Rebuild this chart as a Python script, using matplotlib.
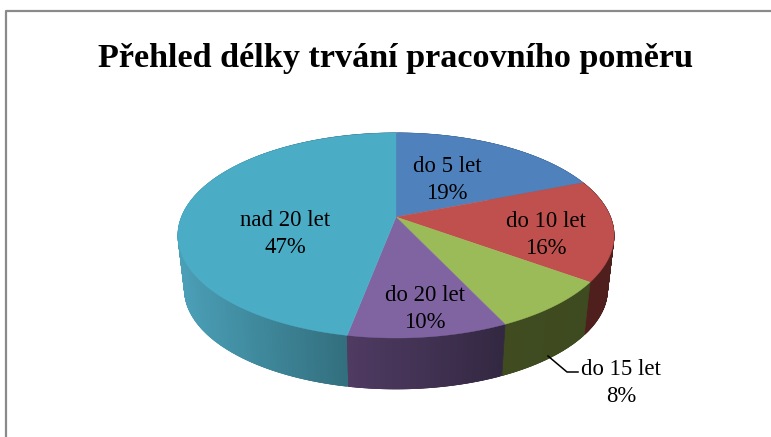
import numpy as np
import matplotlib
matplotlib.use('Agg')
import matplotlib.pyplot as plt
from matplotlib.colors import to_rgb

# data
categories = ['do 5 let', 'do 10 let', 'do 15 let', 'do 20 let', 'nad 20 let']
percents = [19, 16, 8, 10, 47]

# colours of the top face and of the side wall (left end, right end)
top_colors = ['#4f81bd', '#c0504d', '#9bbb59', '#8064a2', '#4bacc6']
wall_left = ['#3a5f8c', '#4f1f1e', '#404c20', '#503b63', '#4ba0b8']
wall_right = ['#3a5f8c', '#4f1f1e', '#3e4a1f', '#332842', '#33707f']

# label centres in pixels
label_x = [447, 546, 621, 425, 285]
label_y = [180, 235, 383, 309, 234]

# pie geometry in pixels, with the perspective of the 3D pie
cx, cy = 396, 217
rx, ry = 214.5, 99.2
persp = 0.18
base_scale = 0.97
base_drop = 54.6


def top_face(theta):
    # theta: clockwise from 12 o'clock, radians
    w = 1 + persp * np.cos(theta)
    return cx + rx * np.sin(theta) / w, cy - ry * np.cos(theta) / w


def base_face(theta):
    w = 1 + persp * np.cos(theta)
    return (cx + base_scale * rx * np.sin(theta) / w,
            cy + base_drop - base_scale * ry * np.cos(theta) / w)


fig = plt.figure(figsize=(7.71, 4.37), dpi=100)
ax = fig.add_axes([0, 0, 1, 1])
ax.set_xlim(0, 771)
ax.set_ylim(437, 0)
ax.axis('off')

# frame of the chart area (cut off on the right and at the bottom)
ax.plot([6, 6, 775], [441, 10.5, 10.5], color='#8a8a8a', lw=1.6, zorder=1)

edges = np.radians(np.cumsum([0] + percents) * 3.6)

# side wall first, back to front; each strip runs a bit into the next one so no seams show
step = np.radians(0.5)
strips = []
for i in range(len(percents)):
    th = np.arange(edges[i], edges[i + 1], step)
    tx, _ = top_face(th)
    front = np.cos(th) < 0.5
    x_lo, x_hi = (tx[front].min(), tx[front].max()) if front.any() else (tx.min(), tx.max())
    c0, c1 = np.array(to_rgb(wall_left[i])), np.array(to_rgb(wall_right[i]))
    for a in th:
        b = min(a + 2 * step, edges[i + 1])
        xa, ya = top_face(a)
        xb, yb = top_face(b)
        xc, yc = base_face(b)
        xd, yd = base_face(a)
        t = np.clip((xa - x_lo) / max(x_hi - x_lo, 1), 0, 1)
        strips.append((np.cos(a), [xa, xb, xc, xd], [ya, yb, yc, yd], c0 + (c1 - c0) * t))
strips.sort(key=lambda s: -s[0])
for _, qx, qy, col in strips:
    ax.fill(qx, qy, color=col, lw=0.5, snap=False, zorder=2)

# top face
for i in range(len(percents)):
    th = np.linspace(edges[i], edges[i + 1], 200)
    x, y = top_face(th)
    ax.fill(np.r_[cx, x], np.r_[cy, y], color=top_colors[i], lw=0.3, zorder=3)

# leader line of the outside label
ax.plot([548, 567, 578], [356, 372, 372], color='black', lw=1.1, zorder=4)

for name, p, lx, ly in zip(categories, percents, label_x, label_y):
    ax.text(lx, ly, f'{name}\n{p}%', ha='center', va='center', fontsize=16.4,
            family='Liberation Serif', color='black', linespacing=1.36, zorder=5)

ax.text(395.5, 59, 'Přehled délky trvání pracovního poměru', ha='center', va='center',
        fontsize=24.6, fontweight='bold', family='Liberation Serif', color='black')

fig.savefig('out.png', dpi=100)
